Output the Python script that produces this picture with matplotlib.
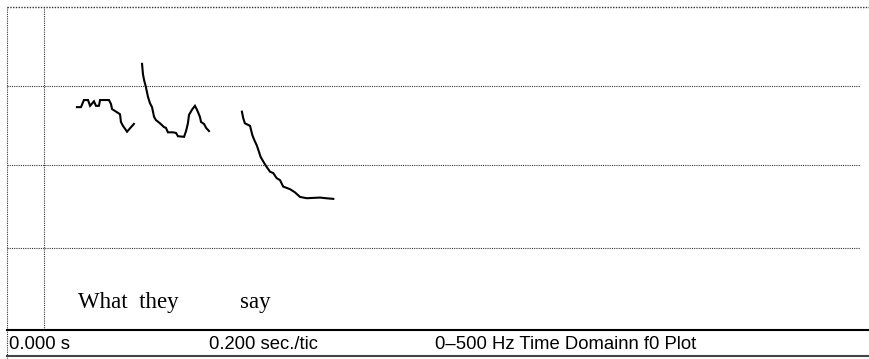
import numpy as np
import matplotlib
matplotlib.use('Agg')
import matplotlib.pyplot as plt
from matplotlib.lines import Line2D

# f0 contour, three voiced stretches (time in s, f0 in Hz)
t1 = [0.378, 0.400, 0.416, 0.438, 0.449, 0.470, 0.481, 0.497, 0.503, 0.551,
      0.562, 0.568, 0.595, 0.611, 0.616, 0.627, 0.649, 0.686]
f1 = [345, 345, 356, 356, 347, 354, 347, 347, 356, 356,
      350, 342, 337, 334, 322, 316, 307, 319]

t2 = [0.730, 0.735, 0.741, 0.751, 0.762, 0.773, 0.784, 0.795, 0.805, 0.827,
      0.849, 0.859, 0.870, 0.897, 0.914, 0.924, 0.957, 0.968, 0.978, 0.984,
      1.000, 1.016, 1.027, 1.043, 1.049, 1.065, 1.076, 1.092]
f2 = [412, 396, 387, 376, 361, 351, 345, 330, 325, 320,
      314, 313, 306, 306, 305, 300, 299, 308, 320, 333,
      341, 347, 341, 330, 322, 319, 313, 308]

t3 = [1.270, 1.277, 1.286, 1.314, 1.326, 1.337, 1.350, 1.362, 1.371, 1.385,
      1.400, 1.422, 1.439, 1.458, 1.476, 1.493, 1.530, 1.557, 1.584, 1.620,
      1.692, 1.724, 1.764]
f3 = [338, 328, 320, 316, 302, 294, 286, 276, 268, 261,
      254, 245, 243, 235, 232, 222, 218, 213, 206, 204,
      205, 204, 203]

words = ["What  they", "say"]
word_t = [0.384, 1.259]
word_f = 34

grid_hz = [127, 255, 377]
tic_s = 0.2
t_max = 4.66

W, H = 869, 359
fig = plt.figure(figsize=(W / 100, H / 100), dpi=100)
ax = fig.add_axes([7 / W, (H - 330) / H, (W - 7) / W, 323 / H])
ax.set_xlim(0, t_max)
ax.set_ylim(0, 500)
ax.axis('off')

dot = (0, (1, 1))
ax.hlines(grid_hz, 0, 4.61, colors='#333333', linestyles=dot, lw=0.8)
ax.hlines(500, 0, t_max, colors='#333333', linestyles=dot, lw=1.0, clip_on=False)
ax.vlines(tic_s, 0, 500, colors='#333333', linestyles=dot, lw=0.8)

for t, f in [(t1, f1), (t2, f2), (t3, f3)]:
    ax.plot(t, f, color='black', lw=1.5, solid_joinstyle='miter')

for w, t in zip(words, word_t):
    ax.text(t, word_f, w, family='Liberation Serif', fontsize=16.5, va='baseline', ha='left')

# bottom label strip
fig.add_artist(Line2D([7 / W, 7 / W], [0, (H - 7) / H], color='#333333', lw=0.8, linestyle=dot))
for yy, c in [(330, 'black'), (356, '#444444')]:
    fig.add_artist(Line2D([7 / W, 1], [(H - yy) / H] * 2, color=c, lw=1.5))

labels = ["0.000 s", "0.200 sec./tic", "0\u2013500 Hz Time Domainn f0 Plot"]
label_x = [9, 209, 435]
for s, x in zip(labels, label_x):
    fig.text(x / W, (H - 349) / H, s, family='Liberation Sans', fontsize=13.3, va='baseline', ha='left')

fig.savefig('out.png', dpi=100)
